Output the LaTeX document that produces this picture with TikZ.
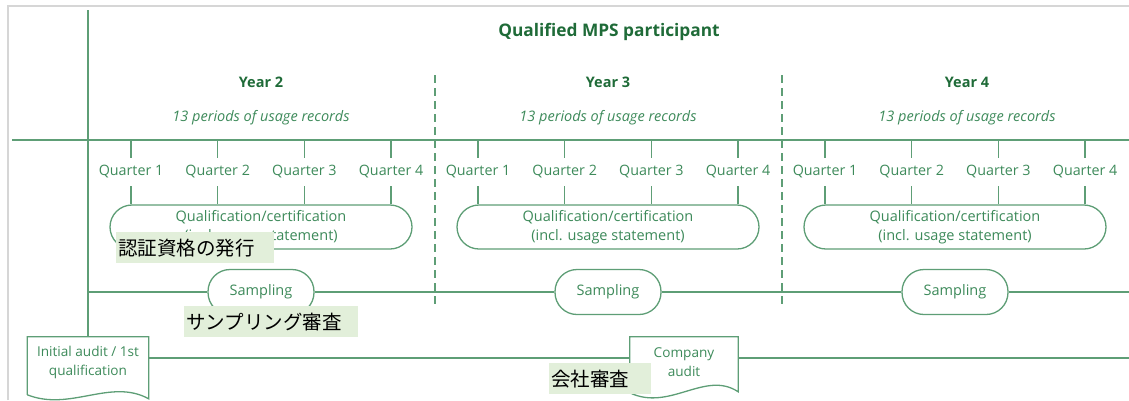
\documentclass[tikz,border=0pt]{standalone}
\usepackage{fontspec}
\setmainfont{Open Sans}
\newfontfamily\jpfont{Noto Sans CJK JP}
\usepackage{xcolor}
\usetikzlibrary{calc,positioning}

\definecolor{lineGreen}{HTML}{5E9E76}
\definecolor{textGreen}{HTML}{3D8A5A}
\definecolor{titleGreen}{HTML}{1F6B38}
\definecolor{noteBg}{HTML}{E2EFDA}
\definecolor{frameGray}{HTML}{D6D6D6}

\tikzset{
  line/.style={draw=lineGreen, line width=1.3pt},
  quarter/.style={text=textGreen, font=\fontsize{14.3}{16}\selectfont, inner sep=0pt, minimum height=28pt},
  yearlabel/.style={text=titleGreen, font=\bfseries\fontsize{14.5}{16}\selectfont},
  periods/.style={text=textGreen, font=\itshape\fontsize{14.5}{16}\selectfont},
  pill/.style={line, rounded corners=22pt, fill=white, text=textGreen, align=center,
    font=\fontsize{14.5}{19}\selectfont, inner sep=0pt},
  docbox/.style={text=textGreen, align=center, font=\fontsize{13.6}{19}\selectfont, inner sep=0pt},
  note/.style={fill=noteBg, anchor=north west, inner xsep=2pt, inner ysep=0pt,
    minimum height=31pt, align=left, font=\jpfont\fontsize{19.5}{22}\selectfont},
}

\begin{document}
\begin{tikzpicture}[x=1pt,y=-1pt]
\useasboundingbox (0,0) rectangle (1129,400);

% Frame round the sheet
\draw[frameGray, line width=1.5pt] (8,400) -- (8,6) -- (1129,6);

% Define the main coordinates
\coordinate (top) at (88,10);
\coordinate (hl) at (12,140);
\coordinate (hr) at (1129,140);
\coordinate (sr) at (1129,292);
\coordinate (base) at (0,358);
\coordinate (br) at (1129,358);

% Title and header line
\node[yearlabel, font=\bfseries\fontsize{17.3}{19}\selectfont] (title) at (609,32) {Qualified MPS participant};
\draw[line] (hl) -- (hr);

% Year separators
\foreach \sx in {435,782} {
    \draw[line, dash pattern=on 8pt off 5pt] (\sx,75) -- (\sx,307);
}

% Years, quarters and their boxes
\foreach \yr/\hx/\bx in {2/261/261, 3/608/608, 4/967/955} {
    \node[yearlabel] (year\yr) at (\hx,82) {Year \yr};
    \node[periods] (rec\yr) at (\hx,118) {13 periods of usage records};
    \node[pill, minimum width=302pt, minimum height=44pt] (qual\yr) at (\bx,227)
        {Qualification/certification\\(incl. usage statement)};
    \node[pill, minimum width=106pt, minimum height=45pt] (samp\yr) at (\bx,292) {Sampling};
    \foreach \q in {1,...,4} {
        \node[quarter] (q\yr\q) at ({\bx-130+86.7*(\q-1)},172) {Quarter \q};
        \draw[line] (q\yr\q.north |- hl) -- (q\yr\q.north);
        \draw[line] (q\yr\q.south) -- (q\yr\q.south |- qual\yr.north);
    }
}

% Sampling line
\draw[line] (top |- samp2.west) -- (samp2.west);
\draw[line] (samp2.east) -- (samp3.west);
\draw[line] (samp3.east) -- (samp4.west);
\draw[line] (samp4.east) -- (sr);

% Audits
\node[docbox, minimum width=121pt, minimum height=50pt] (init) at (88,362)
    {Initial audit / 1st\\qualification};
\node[docbox, minimum width=108pt, minimum height=50pt] (comp) at (684,362)
    {Company\\audit};
\draw[line] ($(init.north west)+(0,58)$) -- (init.north west) -- (init.north east)
    -- ($(init.north east)+(0,62)$)
    .. controls +(-38,-21) and +(43,17) .. ($(init.north west)+(0,58)$);
\draw[line] ($(comp.north west)+(0,56)$) -- (comp.north west) -- (comp.north east)
    -- ($(comp.north east)+(0,55)$)
    .. controls +(-33,-22) and +(40,19) .. ($(comp.north west)+(0,56)$);
\draw[line] (top) -- (init.north);
\draw[line] (init.east |- base) -- (comp.west |- base);
\draw[line] (comp.east |- base) -- (br);

% Japanese notes on top
\node[note, text width=154pt] (noteQual) at (116,232) {認証資格の発行};
\node[note, text width=170pt] (noteSamp) at (184,306) {サンプリング審査};
\node[note, text width=98pt] (noteComp) at (549,363) {会社審査};

\end{tikzpicture}
\end{document}
